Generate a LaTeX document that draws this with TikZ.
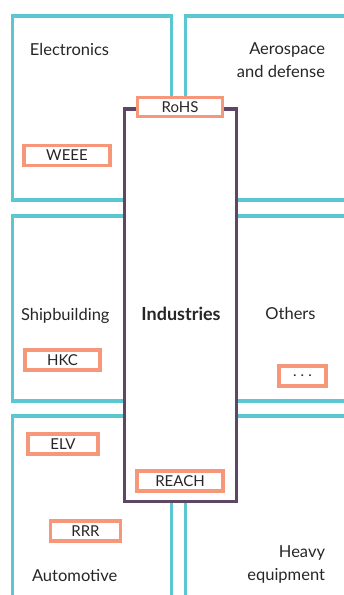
\documentclass[tikz,border=0pt]{standalone}
\usepackage{fontspec}
\setmainfont{Lato}
\definecolor{sectorcyan}{HTML}{5BC8D1}
\definecolor{rulesalmon}{HTML}{F7977A}
\definecolor{hubpurple}{HTML}{5E4766}
\definecolor{inkgray}{HTML}{262626}
\tikzset{
  sector/.style={draw=sectorcyan,line width=3.2pt},
  hub/.style={draw=hubpurple,fill=white,line width=3.4pt},
  regtag/.style={draw=rulesalmon,fill=white,line width=3.5pt,inner sep=0pt,
    text=inkgray,font=\fontsize{15}{17}\selectfont},
  sectorname/.style={text=inkgray,inner sep=0pt,font=\fontsize{16.5}{23}\selectfont}
}
\begin{document}
\begin{tikzpicture}[y=1pt, x=1pt, yscale=-1, outer sep=0pt]
\useasboundingbox (0,0) rectangle (344,595);
\begin{scope}
  \clip (0,0) rectangle (344,595);
  % industry sectors
  \path[sector] (12.5,16) rectangle (171.5,200);
  \path[sector] (185.5,16) rectangle (370,200);
  \path[sector] (12.5,216) rectangle (171.5,401);
  \path[sector] (185.5,216) rectangle (370,401);
  \path[sector] (12.5,416) rectangle (171.5,620);
  \path[sector] (185.5,416) rectangle (370,620);
\end{scope}
% centre column
\path[hub] (124.5,109) rectangle (236.5,501.5);
\node[text=inkgray,inner sep=0pt,font=\fontsize{18}{20}\selectfont\bfseries,
  anchor=base] (industries) at (181,320) {Industries};
% sector names
\node[sectorname,anchor=base west] (electronics) at (30,55) {Electronics};
\node[sectorname,anchor=base east,align=right] (aerospace) at (325,77)
  {Aerospace\\and defense};
\node[sectorname,anchor=base west] (shipbuilding) at (21,320) {Shipbuilding};
\node[sectorname,anchor=base] (others) at (290.5,319) {Others};
\node[sectorname,anchor=base west] (automotive) at (32,581) {Automotive};
\node[sectorname,anchor=base east,align=right] (heavy) at (325,580)
  {Heavy\\equipment};
% regulations
\node[regtag,minimum width=85pt,minimum height=19pt] (rohs) at (180,107) {RoHS};
\node[regtag,minimum width=86pt,minimum height=20pt] (weee) at (67,155.5) {WEEE};
\node[regtag,minimum width=75pt,minimum height=20pt] (hkc) at (62.5,360) {HKC};
\node[regtag,minimum width=47pt,minimum height=20pt] (etc) at (302.5,376)
  {.\hspace{4pt}.\hspace{4pt}.};
\node[regtag,minimum width=70pt,minimum height=20pt] (elv) at (63,444) {ELV};
\node[regtag,minimum width=86pt,minimum height=20pt] (reach) at (180,481) {REACH};
\node[regtag,minimum width=70pt,minimum height=20pt] (rrr) at (85.5,531) {RRR};
\end{tikzpicture}
\end{document}
